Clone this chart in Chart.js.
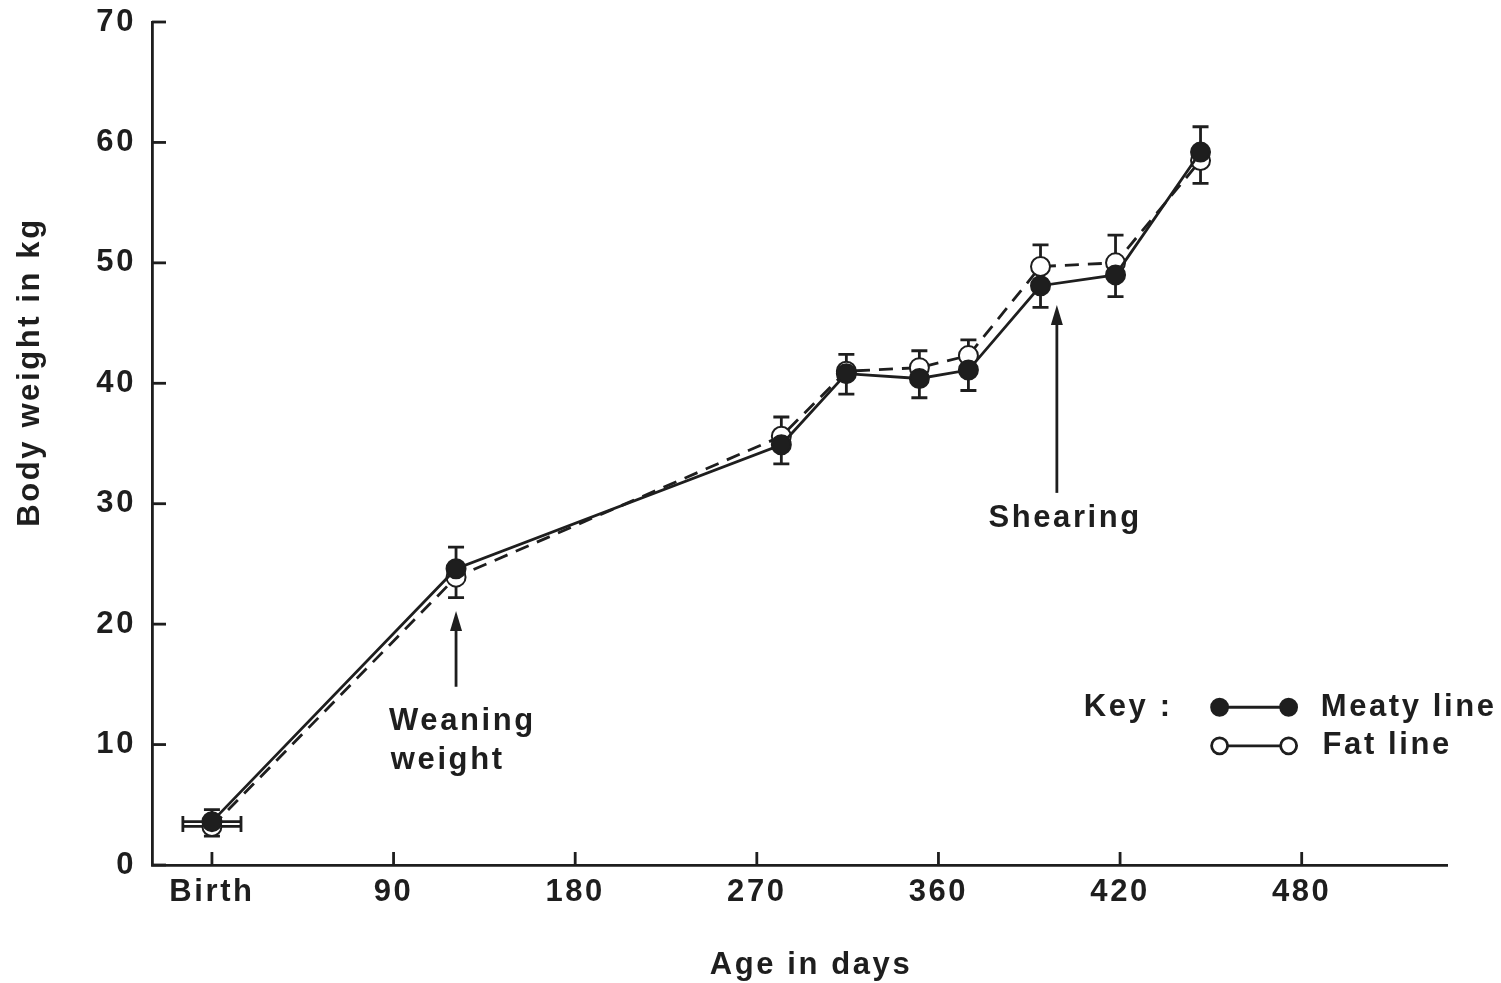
<!DOCTYPE html>
<html>
<head>
<meta charset="utf-8">
<script src="https://cdn.jsdelivr.net/npm/chart.js@4.4.1/dist/chart.umd.min.js"></script>
<style>
  html, body { margin: 0; padding: 0; background: #fff; }
  #wrap { width: 1501px; height: 983px; }
</style>
</head>
<body>
<div id="wrap"><canvas id="c" width="1501" height="983"></canvas></div>
<script>
// x is in "tick slots": Birth=0, 90=1, 180=2 ... (the printed axis is evenly spaced)
const X_TICKS = [0, 1, 2, 3, 4, 5, 6];
const X_LABELS = ['Birth', '90', '180', '270', '360', '420', '480'];
const Y_TICKS = [0, 10, 20, 30, 40, 50, 60, 70];

const AGE_POS = [0, 1.344, 3.135, 3.493, 3.895, 4.165, 4.562, 4.975, 5.443];
const MEATY   = [3.6, 24.6, 34.9, 40.8, 40.4, 41.1, 48.1, 49.0, 59.2];
const FAT     = [3.2, 23.9, 35.6, 41.0, 41.3, 42.3, 49.7, 50.0, 58.5];
const ERR_HI  = [4.6, 26.4, 37.2, 42.4, 42.7, 43.6, 51.5, 52.3, 61.3];
const ERR_LO  = [2.4, 22.2, 33.3, 39.1, 38.8, 39.4, 46.3, 47.2, 56.6];
const BIRTH_X_ERR = 0.16;

const INK = '#1e1e1e';
const LW = 2.8;
const FONT = { family: '"Liberation Sans", Arial, sans-serif', size: 31, weight: 'bold' };
const fontStr = `bold ${FONT.size}px ${FONT.family}`;
const SPACING = '2.6px';

const pts = ys => AGE_POS.map((x, i) => ({ x, y: ys[i] }));

const decor = {
  id: 'decor',
  beforeDraw(chart) {
    chart.ctx.letterSpacing = SPACING;
  },
  beforeDatasetsDraw(chart) {
    const { ctx, scales: { x, y } } = chart;
    ctx.save();
    ctx.strokeStyle = INK;
    ctx.lineWidth = LW;
    AGE_POS.forEach((a, i) => {
      const px = x.getPixelForValue(a);
      const hi = y.getPixelForValue(ERR_HI[i]), lo = y.getPixelForValue(ERR_LO[i]);
      ctx.beginPath();
      ctx.moveTo(px, hi); ctx.lineTo(px, lo);
      ctx.moveTo(px - 8, hi); ctx.lineTo(px + 8, hi);
      ctx.moveTo(px - 8, lo); ctx.lineTo(px + 8, lo);
      ctx.stroke();
    });
    // horizontal spread at birth
    const l = x.getPixelForValue(AGE_POS[0] - BIRTH_X_ERR), r = x.getPixelForValue(AGE_POS[0] + BIRTH_X_ERR);
    [MEATY[0], FAT[0]].forEach(v => {
      const py = y.getPixelForValue(v);
      ctx.beginPath(); ctx.moveTo(l, py); ctx.lineTo(r, py); ctx.stroke();
    });
    const ym = y.getPixelForValue((MEATY[0] + FAT[0]) / 2);
    ctx.beginPath();
    ctx.moveTo(l, ym - 8); ctx.lineTo(l, ym + 8);
    ctx.moveTo(r, ym - 8); ctx.lineTo(r, ym + 8);
    ctx.stroke();
    ctx.restore();
  },
  afterDraw(chart) {
    const { ctx, scales: { x, y }, chartArea: ca } = chart;
    ctx.save();
    ctx.strokeStyle = INK; ctx.fillStyle = INK; ctx.lineWidth = LW;
    ctx.letterSpacing = SPACING;
    ctx.font = fontStr;

    // inward tick marks
    X_TICKS.forEach(v => {
      const px = x.getPixelForValue(v);
      ctx.beginPath(); ctx.moveTo(px, ca.bottom); ctx.lineTo(px, ca.bottom - 13); ctx.stroke();
    });
    Y_TICKS.forEach(v => {
      const py = y.getPixelForValue(v);
      ctx.beginPath(); ctx.moveTo(ca.left, py); ctx.lineTo(ca.left + 14, py); ctx.stroke();
    });

    const text = (s, vx, vy) => {
      ctx.textAlign = 'left'; ctx.textBaseline = 'middle';
      ctx.fillText(s, x.getPixelForValue(vx), y.getPixelForValue(vy));
    };
    const arrow = (vx, vFrom, vTo) => {
      const px = x.getPixelForValue(vx), y0 = y.getPixelForValue(vFrom), y1 = y.getPixelForValue(vTo);
      ctx.beginPath(); ctx.moveTo(px, y0); ctx.lineTo(px, y1 + 14); ctx.stroke();
      ctx.beginPath(); ctx.moveTo(px, y1); ctx.lineTo(px - 6, y1 + 20); ctx.lineTo(px + 6, y1 + 20); ctx.closePath(); ctx.fill();
    };

    text('Weaning', 0.975, 11.9);
    text('weight', 0.985, 8.7);
    arrow(1.344, 14.8, 21.1);
    text('Shearing', 4.275, 28.8);
    arrow(4.652, 30.9, 46.5);

    // key
    text('Key :', 4.80, 13.1);
    text('Meaty line', 6.105, 13.1);
    text('Fat line', 6.115, 9.9);
    const k0 = x.getPixelForValue(5.548), k1 = x.getPixelForValue(5.928);
    [[13.1, INK], [9.9, '#fff']].forEach(([v, fill]) => {
      const py = y.getPixelForValue(v);
      ctx.beginPath(); ctx.moveTo(k0, py); ctx.lineTo(k1, py); ctx.stroke();
      [k0, k1].forEach(px => {
        ctx.beginPath(); ctx.arc(px, py, 8, 0, Math.PI * 2);
        ctx.fillStyle = fill; ctx.fill(); ctx.stroke();
      });
    });
    ctx.fillStyle = INK;

    // axis titles
    ctx.textAlign = 'center'; ctx.textBaseline = 'middle';
    ctx.fillText('Age in days', 811, 965);
    ctx.translate(30, 372);
    ctx.rotate(-Math.PI / 2);
    ctx.fillText('Body weight in kg', 0, 0);
    ctx.restore();
  }
};

new Chart(document.getElementById('c'), {
  type: 'line',
  data: {
    datasets: [
      {
        label: 'Meaty line',
        data: pts(MEATY),
        borderColor: INK, borderWidth: LW,
        pointRadius: 9.5, pointBackgroundColor: INK, pointBorderColor: INK, pointBorderWidth: 2,
        tension: 0
      },
      {
        label: 'Fat line',
        data: pts(FAT),
        borderColor: INK, borderWidth: LW, borderDash: [14, 9],
        pointRadius: 9.5, pointBackgroundColor: '#fff', pointBorderColor: INK, pointBorderWidth: 2,
        tension: 0
      }
    ]
  },
  options: {
    responsive: false,
    devicePixelRatio: 1,
    animation: false,
    layout: { padding: { top: 22, right: 54, left: 0, bottom: 0 } },
    plugins: { legend: { display: false }, tooltip: { enabled: false } },
    scales: {
      x: {
        type: 'linear', min: -0.33, max: 6.8,
        afterBuildTicks: s => { s.ticks = X_TICKS.map(v => ({ value: v })); },
        afterFit: s => { s.height = 118; s.paddingLeft = 0; s.paddingRight = 0; },
        grid: { display: false, drawTicks: false },
        border: { display: true, color: INK, width: LW },
        ticks: {
          callback: v => X_LABELS[X_TICKS.indexOf(v)],
          font: FONT, color: INK, padding: 9, maxRotation: 0, autoSkip: false
        }
      },
      y: {
        type: 'linear', min: 0, max: 70,
        afterBuildTicks: s => { s.ticks = Y_TICKS.map(v => ({ value: v })); },
        afterFit: s => { s.width = 152; s.paddingTop = 0; s.paddingBottom = 0; },
        grid: { display: false, drawTicks: false },
        border: { display: true, color: INK, width: LW },
        ticks: { font: FONT, color: INK, padding: 16 }
      }
    }
  },
  plugins: [decor]
});
</script>
</body>
</html>
